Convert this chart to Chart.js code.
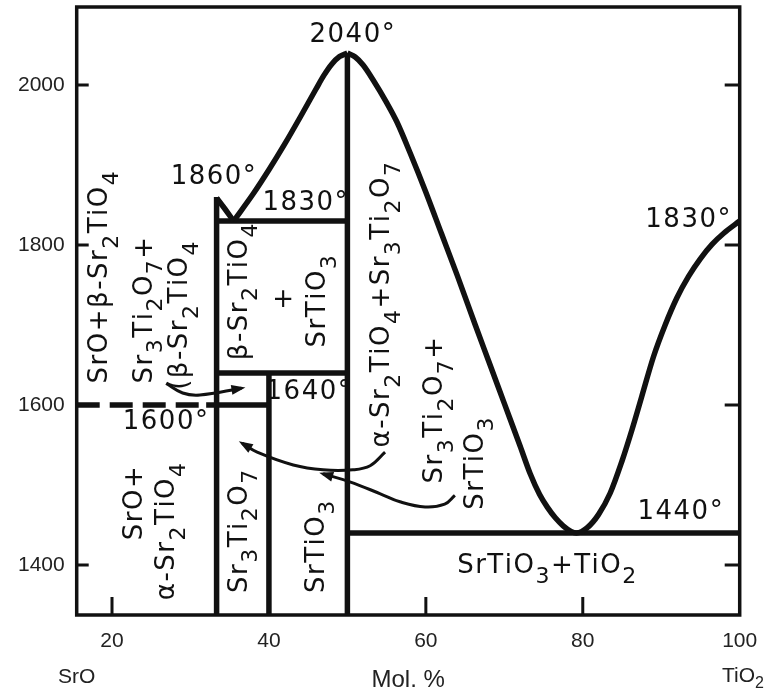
<!DOCTYPE html>
<html>
<head>
<meta charset="utf-8">
<script src="https://cdn.jsdelivr.net/npm/chart.js@4"></script>
<style>
    body { margin: 0; background: #fff; }
</style>
</head>
<body>
<canvas id="chart" width="768" height="695"></canvas>
<script>
// axis ranges and tick labels
const xMin = 15.5, xMax = 100;
const yMin = 1337.5, yMax = 2097.5;
const xTicks = [20, 40, 60, 80, 100];
const yTicks = [1400, 1600, 1800, 2000];

// liquidus
const peakSr2TiO4X = [33.33, 34.4, 35.5];
const peakSr2TiO4T = [1859, 1845, 1830];
const liquidusLeftX = [35.5, 38, 40, 42, 44, 46, 47, 48, 49, 50];
const liquidusLeftT = [1830, 1864, 1894, 1926, 1960, 1995, 2012, 2026, 2035.5, 2040];
const liquidusRightX = [50, 51, 52, 53.3, 55, 56.3, 58, 60, 62, 64, 66.3, 68, 70, 72, 73.3, 74.5, 75.5, 76.5, 77.5, 78.5, 79.2,
    80.5, 82, 83.5, 85, 86.3, 87.5, 89, 90.5, 92, 93.5, 95, 96.5, 98, 100];
const liquidusRightT = [2040, 2035, 2025, 2006, 1978, 1954, 1915, 1866, 1814, 1762, 1700, 1655, 1602, 1549, 1514, 1488, 1472, 1459, 1449, 1442, 1440,
    1446, 1463, 1490, 1530, 1570, 1610, 1660, 1700, 1734, 1761, 1783, 1801, 1815, 1830];

// compounds (vertical lines)
const compoundX = [33.33, 40, 50];
const compoundTop = [1860, 1640, 2040];

// isotherms
const isothermT = [1830, 1640, 1600, 1440];
const isothermFrom = [33.33, 33.33, 32, 50];
const isothermTo = [50, 50, 40, 100];
const dashedIsothermX = [15.5, 32];
const dashedIsothermT = [1600, 1600];

// leader arrows
const leaderAX = [26.9, 29.0, 31.2, 36.5];
const leaderAT = [1627, 1615, 1612.5, 1621];
const leaderBX = [54.8, 52.9, 50.7, 46.9, 43.1, 38.5, 36.6];
const leaderBT = [1541, 1524, 1519, 1519, 1525, 1541, 1552];
const leaderCX = [63.7, 62.4, 59.9, 56.7, 54.2, 50.3, 46.9];
const leaderCT = [1487, 1476, 1472.5, 1479, 1489, 1504, 1514];

// region and temperature labels, placed in data units
const flatLabels = [
    {text: '2040°', x: 50.6, t: 2062.5},
    {text: '1860°', x: 32.9, t: 1885},
    {text: '1830°', x: 44.6, t: 1852.5},
    {text: '1830°', x: 93.4, t: 1831},
    {text: '1640°', x: 45.0, t: 1616},
    {text: '1600°', x: 26.8, t: 1579},
    {text: '1440°', x: 92.4, t: 1466},
    {text: 'SrTiO_3+TiO_2', x: 75.4, t: 1399},
    {text: '+', x: 41.8, t: 1731}
];
const upLabels = [
    {text: 'SrO+β-Sr_2TiO_4', x: 18.5, t: 1627},
    {text: 'Sr_3Ti_2O_7+', x: 24.2, t: 1627},
    {text: '(β-Sr_2TiO_4', x: 28.7, t: 1619},
    {text: 'β-Sr_2TiO_4', x: 36.3, t: 1656},
    {text: 'SrTiO_3', x: 46.3, t: 1672},
    {text: 'α-Sr_2TiO_4+Sr_3Ti_2O_7', x: 54.5, t: 1547},
    {text: 'Sr_3Ti_2O_7+', x: 61.2, t: 1502},
    {text: 'SrTiO_3', x: 66.4, t: 1469},
    {text: 'SrO+', x: 22.9, t: 1431},
    {text: 'α-Sr_2TiO_4', x: 27.1, t: 1356},
    {text: 'Sr_3Ti_2O_7', x: 36.3, t: 1365},
    {text: 'SrTiO_3', x: 46.1, t: 1365}
];

const INK = '#111';
const LW = 5.5;

function line(xs, ts, extra) {
    return Object.assign({
        data: xs.map((x, i) => ({x: x, y: ts[i]})),
        showLine: true,
        borderColor: INK,
        borderWidth: LW,
        pointRadius: 0,
        fill: false,
        borderCapStyle: 'butt'
    }, extra || {});
}

let datasets = [
    line(peakSr2TiO4X, peakSr2TiO4T),
    line(liquidusLeftX, liquidusLeftT, {cubicInterpolationMode: 'monotone'}),
    line(liquidusRightX, liquidusRightT, {cubicInterpolationMode: 'monotone'}),
    line(dashedIsothermX, dashedIsothermT, {borderDash: [23, 10]}),
    line(leaderAX, leaderAT, {borderWidth: 3, tension: 0.4, arrow: true}),
    line(leaderBX, leaderBT, {borderWidth: 3, tension: 0.4, arrow: true}),
    line(leaderCX, leaderCT, {borderWidth: 3, tension: 0.4, arrow: true})
];
compoundX.forEach((x, i) => datasets.push(line([x, x], [yMin, compoundTop[i]])));
isothermT.forEach((t, i) => datasets.push(line([isothermFrom[i], isothermTo[i]], [t, t])));

function richText(ctx, str, x, y, size, rot, centered) {
    const segs = [];
    for (let i = 0; i < str.length; i++) {
        if (str[i] === '_') { segs.push({c: str[i + 1], sub: true}); i++; }
        else segs.push({c: str[i], sub: false});
    }
    const font = size + 'px "DejaVu Sans"';
    const subFont = Math.round(size * 0.85) + 'px "DejaVu Sans"';
    const gap = 1.5;
    const widths = segs.map(s => {
        ctx.font = s.sub ? subFont : font;
        return ctx.measureText(s.c).width + gap;
    });
    const total = widths.reduce((a, b) => a + b, 0) - gap;
    ctx.save();
    ctx.translate(x, y);
    ctx.rotate(rot);
    ctx.fillStyle = INK;
    ctx.textAlign = 'left';
    ctx.textBaseline = 'middle';
    let cx = centered ? -total / 2 : 0;
    segs.forEach((s, i) => {
        ctx.font = s.sub ? subFont : font;
        ctx.fillText(s.c, cx, s.sub ? size * 0.45 : 0);
        cx += widths[i];
    });
    ctx.restore();
}

const decorations = {
    id: 'decorations',
    afterDatasetsDraw(chart) {
        const ctx = chart.ctx;
        const a = chart.chartArea;
        const xs = chart.scales.x, ys = chart.scales.y;

        // frame and inward ticks
        ctx.save();
        ctx.strokeStyle = INK;
        ctx.lineWidth = 3.5;
        ctx.strokeRect(a.left, a.top, a.right - a.left, a.bottom - a.top);
        ctx.lineWidth = 3;
        ctx.beginPath();
        yTicks.forEach(t => {
            const y = ys.getPixelForValue(t);
            ctx.moveTo(a.left, y); ctx.lineTo(a.left + 12, y);
            ctx.moveTo(a.right, y); ctx.lineTo(a.right - 15, y);
        });
        xTicks.slice(0, -1).forEach(v => {
            const x = xs.getPixelForValue(v);
            ctx.moveTo(x, a.bottom); ctx.lineTo(x, a.bottom - 18);
        });
        ctx.stroke();

        // arrow heads on leaders
        chart.data.datasets.forEach((ds, i) => {
            if (!ds.arrow) return;
            const pts = chart.getDatasetMeta(i).data;
            const p1 = pts[pts.length - 2], p2 = pts[pts.length - 1];
            const ang = Math.atan2(p2.y - p1.y, p2.x - p1.x);
            ctx.save();
            ctx.translate(p2.x, p2.y);
            ctx.rotate(ang);
            ctx.fillStyle = INK;
            ctx.beginPath();
            ctx.moveTo(4, 0);
            ctx.lineTo(-10, -5);
            ctx.lineTo(-10, 5);
            ctx.closePath();
            ctx.fill();
            ctx.restore();
        });
        ctx.restore();

        flatLabels.forEach(l => richText(ctx, l.text, xs.getPixelForValue(l.x), ys.getPixelForValue(l.t), 26, 0, true));
        upLabels.forEach(l => richText(ctx, l.text, xs.getPixelForValue(l.x), ys.getPixelForValue(l.t), 26, -Math.PI / 2, false));

        // end-member names under the axis
        ctx.save();
        ctx.fillStyle = '#222';
        ctx.textBaseline = 'middle';
        ctx.textAlign = 'center';
        ctx.font = '21px "Liberation Sans"';
        ctx.fillText('SrO', a.left, 677);
        ctx.textAlign = 'left';
        ctx.fillText('TiO', 722, 676);
        const w = ctx.measureText('TiO').width;
        ctx.font = '16px "Liberation Sans"';
        ctx.fillText('2', 722 + w, 684);
        ctx.restore();
    }
};

new Chart(document.getElementById('chart'), {
    type: 'scatter',
    data: {datasets: datasets},
    options: {
        responsive: false,
        animation: false,
        layout: {padding: {top: 7, right: 28.3, left: 0, bottom: 0}},
        plugins: {legend: {display: false}, tooltip: {enabled: false}},
        scales: {
            x: {
                type: 'linear',
                min: xMin,
                max: xMax,
                afterBuildTicks: s => { s.ticks = xTicks.map(v => ({value: v})); },
                afterFit: s => { s.height = 80; s.paddingLeft = 0; s.paddingRight = 0; },
                grid: {display: false, drawTicks: false},
                border: {display: false},
                ticks: {
                    padding: 14, color: '#222', maxRotation: 0, autoSkip: false,
                    font: {family: 'Liberation Sans', size: 21},
                    callback: v => String(v)
                },
                title: {
                    display: true, text: 'Mol. %', color: '#222',
                    font: {family: 'Liberation Sans', size: 24},
                    padding: {top: 0, bottom: 0}
                }
            },
            y: {
                type: 'linear',
                min: yMin,
                max: yMax,
                afterBuildTicks: s => { s.ticks = yTicks.map(v => ({value: v})); },
                afterFit: s => { s.width = 76.7; s.paddingTop = 0; s.paddingBottom = 0; },
                grid: {display: false, drawTicks: false},
                border: {display: false},
                ticks: {
                    padding: 12, color: '#222',
                    font: {family: 'Liberation Sans', size: 21},
                    callback: v => String(v)
                }
            }
        }
    },
    plugins: [decorations]
});
</script>
</body>
</html>
